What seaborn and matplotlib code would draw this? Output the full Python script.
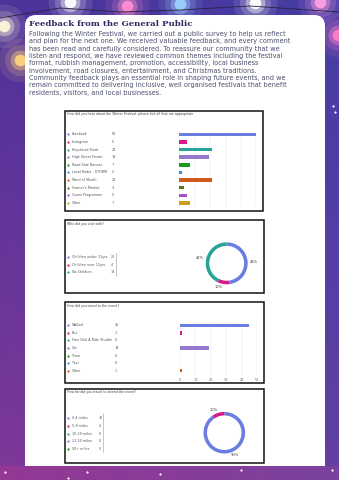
import numpy as np
import matplotlib.pyplot as plt
import seaborn as sns
from matplotlib.patches import FancyBboxPatch, Rectangle

W, H = 339, 480

# ---- data ----
heard_labels = ['Facebook', 'Instagram', 'Keyshead Kiosk', 'High Street Poster', 'Road Side Banner',
                'Local Radio - STORM', 'Word of Mouth', "Farmer's Market", 'Guest Programme', 'Other']
heard_counts = [50, 5, 21, 19, 7, 2, 21, 3, 5, 7]

visit_labels = ['Children under 11yrs', 'Children over 11yrs', 'No Children']
visit_counts = [20, 4, 18]
visit_pct = ['48%', '10%', '42%']

travel_labels = ['Walked', 'Bus', 'Free Dial A Ride Shuttle', 'Car', 'Train', 'Taxi', 'Other']
travel_counts = [45, 1, 0, 19, 0, 0, 1]
travel_ticks = [0, 10, 20, 30, 40, 50]

dist_labels = ['0-4 miles', '5-9 miles', '10-20 miles', '21-50 miles', '50+ miles']
dist_counts = [38, 4, 0, 0, 0]
dist_pct = ['90%', '10%']

forms_colors = ['#6a7de0', '#d8198a', '#27a398', '#9479cf', '#1c9a1c',
                '#3d8fdb', '#cf5a1c', '#4f7a1c', '#a552c9', '#c9a21a']

title = 'Feedback from the General Public'
body = [
    'Following the Winter Festival, we carried out a public survey to help us reflect',
    'and plan for the next one. We received valuable feedback, and every comment',
    'has been read and carefully considered. To reassure our community that we',
    'listen and respond, we have reviewed common themes including the festival',
    'format, rubbish management, promotion, accessibility, local business',
    'involvement, road closures, entertainment, and Christmas traditions.',
    'Community feedback plays an essential role in shaping future events, and we',
    'remain committed to delivering inclusive, well organised festivals that benefit',
    'residents, visitors, and local businesses.',
]

q1 = 'How did you hear about the Winter Festival, please tick all that are appropriate'
q2 = 'Who did you visit with?'
q3 = 'How did you travel to the event?'
q4 = 'How far did you travel to attend the event?'


def rect(x0, y0, x1, y1):
    # pixel box (top-left origin) -> figure fraction
    return [x0 / W, 1 - y1 / H, (x1 - x0) / W, (y1 - y0) / H]


sns.set_theme(style="white")
plt.rcParams['font.family'] = ['DejaVu Sans']

fig = plt.figure(figsize=(W / 100, H / 100), dpi=100)
bg = fig.add_axes([0, 0, 1, 1])
bg.set_xlim(0, W)
bg.set_ylim(H, 0)
bg.axis('off')

# festive background gradient
yy, xx = np.mgrid[0:1:240j, 0:1:170j]
top = np.array([0.30, 0.20, 0.60])
right = np.array([0.22, 0.30, 0.70])
bottom = np.array([0.50, 0.22, 0.60])
img = (top[None, None, :] * (1 - yy[..., None]) + bottom[None, None, :] * yy[..., None]) * (1 - 0.4 * xx[..., None]) \
    + right[None, None, :] * 0.4 * xx[..., None]
bg.imshow(np.clip(img, 0, 1), extent=[0, W, H, 0], aspect='auto', zorder=0)

# string lights glow
lights = [(4, 26, '#fff6d8'), (70, 2, '#ffffff'), (127, 6, '#ff8fd0'), (255, 3, '#ffffff'),
          (320, 2, '#ff9fe0'), (338, 35, '#ff7fc8'), (180, 4, '#9fd0ff'), (20, 60, '#ffd27a')]
for lx, ly, lc in lights:
    for s, a in [(1000, 0.10), (500, 0.18), (200, 0.40), (70, 0.95)]:
        bg.scatter(lx, ly, s=s, color=lc, alpha=a, lw=0, zorder=1)
bg.plot([0, 60, 120, 180, 250, 339], [18, 8, 12, 10, 6, 12], color='#2a2040', lw=0.6, zorder=1)

# white card
card = FancyBboxPatch((25, 15), 300, 470, boxstyle='round,pad=0,rounding_size=11',
                      fc='white', ec='none', zorder=2)
bg.add_patch(card)

# footer band
band = np.linspace(0, 1, 100)[None, :, None]
fc0 = np.array([0.58, 0.22, 0.58])
fc1 = np.array([0.48, 0.26, 0.62])
bg.imshow(fc0 * (1 - band) + fc1 * band, extent=[0, W, H, 466], aspect='auto', zorder=3)
for dx, dy in [(5, 472), (68, 478), (87, 472), (160, 474), (241, 470), (332, 470), (333, 106), (335, 112)]:
    bg.scatter(dx, dy, s=2.5, color='white', lw=0, zorder=4)
bg.set_xlim(0, W)
bg.set_ylim(H, 0)

# heading + body copy
bg.text(29, 23.5, title, fontsize=6.1, fontweight='bold', family='DejaVu Serif',
        color='#2b2d5e', va='center', ha='left', zorder=5)
for i, line in enumerate(body):
    bg.text(29, 34 + i * 7.35, line, fontsize=4.72, color='#4a4e6c', va='center', ha='left', zorder=5)

# chart frames
boxes = [(65, 111, 263, 211), (65, 220, 264, 293), (65, 302, 264, 383), (65, 389, 264, 463)]
for x0, y0, x1, y1 in boxes:
    bg.add_patch(Rectangle((x0, y0), x1 - x0, y1 - y0, fc='white', ec='#111111', lw=1.1, zorder=5))

qs = [q1, q2, q3, q4]
for (x0, y0, x1, y1), q in zip(boxes, qs):
    bg.text(x0 + 2, y0 + 3.5, q, fontsize=2.35, color='#444444', va='center', ha='left', zorder=6)


def legend(labels, counts, colors, y0, step, vx):
    for i, (lab, cnt) in enumerate(zip(labels, counts)):
        y = y0 + i * step
        bg.scatter(68.3, y, s=2.6, marker='o', color=colors[i], lw=0, zorder=6)
        bg.text(71.5, y, lab, fontsize=2.4, color='#555555', va='center', ha='left', zorder=6)
        bg.text(vx, y, str(cnt), fontsize=2.4, color='#555555', va='center', ha='left', zorder=6)


legend(heard_labels, heard_counts, forms_colors, 134.3, 7.63, 112)
legend(visit_labels, visit_counts, forms_colors, 257, 7.6, 111)
legend(travel_labels, travel_counts, forms_colors, 325.3, 7.57, 115)
legend(dist_labels, dist_counts, forms_colors, 418.3, 7.7, 98.5)
bg.plot([116, 116], [253, 276], color='#999999', lw=0.4, zorder=6)
bg.plot([103.3, 103.3], [413, 452], color='#999999', lw=0.4, zorder=6)


def bar_axes(box, labels, counts, ticks, show_ticks):
    ax = fig.add_axes(rect(*box))
    sns.barplot(x=counts, y=labels, hue=labels, palette=forms_colors[:len(labels)],
                orient='h', width=0.45, legend=False, linewidth=0, saturation=1, ax=ax)
    ax.set_xlim(ticks[0], ticks[-1])
    ax.set_xticks(ticks)
    ax.set_yticks([])
    ax.set_xlabel('')
    ax.set_ylabel('')
    ax.grid(axis='x', color='#e4e4e4', lw=0.35)
    ax.set_axisbelow(True)
    for s in ax.spines.values():
        s.set_visible(False)
    ax.patch.set_alpha(0)
    if show_ticks:
        ax.tick_params(axis='x', length=0, labelsize=2.5, labelcolor='#666666', pad=2.5)
    else:
        ax.tick_params(axis='x', length=0, labelbottom=False)
    return ax


bar_axes((179.3, 130.5, 256.3, 206.8), heard_labels, heard_counts, travel_ticks, False)
bar_axes((180, 321.5, 257, 374.5), travel_labels, travel_counts, travel_ticks, True)


def donut(cx, cy, r, counts, pct):
    vals = [c for c in counts if c > 0]
    ax = fig.add_axes(rect(cx - r, cy - r, cx + r, cy + r))
    ax.pie(vals, colors=forms_colors[:len(vals)], startangle=90, counterclock=False,
           labels=pct, labeldistance=1.12,
           textprops=dict(fontsize=2.6, color='#444444'),
           wedgeprops=dict(width=0.17, edgecolor='none', linewidth=0))
    ax.set_xlim(-1, 1)
    ax.set_ylim(-1, 1)
    ax.set_aspect('equal')
    ax.axis('off')
    for t in ax.texts:
        t.set_clip_on(False)


donut(226.7, 263.3, 21, visit_counts, visit_pct)
donut(224.3, 432.7, 20.8, dist_counts, dist_pct)

fig.savefig('out.png', dpi=100)
